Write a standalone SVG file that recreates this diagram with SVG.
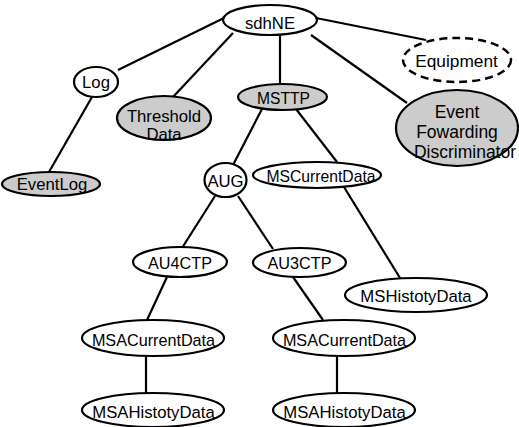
<svg xmlns="http://www.w3.org/2000/svg" width="519" height="427" viewBox="0 0 519 427">
<style>
  .n { fill: #ffffff; stroke: #000; stroke-width: 2.2; }
  .g { fill: #cccccc; stroke: #000; stroke-width: 2.2; }
  .d { fill: #ffffff; stroke: #000; stroke-width: 2.5; stroke-dasharray: 8 5; }
  .e line { stroke: #000; stroke-width: 2.2; }
  text { font-family: "Liberation Sans", Arial, sans-serif; font-size: 16.7px; fill: #000; text-anchor: middle; }
</style>
<rect width="519" height="427" fill="#ffffff"/>
<g id="connectors" class="e">
  <line x1="118" y1="70" x2="224" y2="18"/>
  <line x1="233" y1="33" x2="173" y2="97"/>
  <line x1="280" y1="35" x2="280" y2="83"/>
  <line x1="316" y1="18" x2="426" y2="40"/>
  <line x1="311" y1="35" x2="407" y2="103"/>
  <line x1="92" y1="97" x2="49" y2="172"/>
  <line x1="262" y1="109" x2="233" y2="165"/>
  <line x1="296" y1="109" x2="337" y2="162"/>
  <line x1="215" y1="196" x2="182" y2="248"/>
  <line x1="238" y1="196" x2="273" y2="249"/>
  <line x1="344" y1="187" x2="400" y2="278"/>
  <line x1="167" y1="277" x2="147" y2="320"/>
  <line x1="293" y1="277" x2="323" y2="320"/>
  <line x1="146" y1="356" x2="146" y2="393"/>
  <line x1="337" y1="356" x2="337" y2="393"/>
</g>
<g id="sdhNE"><ellipse class="n" cx="270" cy="20" rx="47" ry="15"/><text x="270" y="29">sdhNE</text></g>
<g id="Log"><ellipse class="n" cx="96" cy="82" rx="22" ry="15"/><text x="96" y="88">Log</text></g>
<g id="ThresholdData"><ellipse class="g" cx="164" cy="118" rx="47" ry="22"/><text x="164" y="122">Threshold</text><text x="164" y="140">Data</text></g>
<g id="EventLog"><ellipse class="g" cx="51" cy="184" rx="49" ry="12"/><text x="52" y="190">EventLog</text></g>
<g id="MSTTP"><ellipse class="g" cx="282.5" cy="97" rx="44.5" ry="13"/><text x="283.5" y="104" style="font-size:15.6px">MSTTP</text></g>
<g id="Equipment"><ellipse class="d" cx="457" cy="60" rx="54" ry="22"/><text x="456.5" y="67" style="font-size:17.3px">Equipment</text></g>
<g id="EventFowardingDiscriminator"><ellipse class="g" cx="457" cy="128" rx="61" ry="38"/><text x="457" y="118" style="font-size:17.5px">Event</text><text x="457" y="138" style="font-size:17.5px">Fowarding</text><text x="465" y="158" style="font-size:17.5px">Discriminator</text></g>
<g id="AUG"><ellipse class="n" cx="225.5" cy="180" rx="21" ry="17"/><text x="225.5" y="187">AUG</text></g>
<g id="MSCurrentData"><ellipse class="n" cx="317" cy="175" rx="64" ry="13"/><text x="321" y="182" style="font-size:15.7px">MSCurrentData</text></g>
<g id="AU4CTP"><ellipse class="n" cx="180" cy="262" rx="47" ry="15"/><text x="180" y="269" style="font-size:16.2px">AU4CTP</text></g>
<g id="AU3CTP"><ellipse class="n" cx="299.5" cy="262.5" rx="46.5" ry="14.5"/><text x="299.5" y="269" style="font-size:16.2px">AU3CTP</text></g>
<g id="MSHistotyData"><ellipse class="n" cx="416" cy="295" rx="71" ry="17"/><text x="416" y="302">MSHistotyData</text></g>
<g id="MSACurrentData1"><ellipse class="n" cx="153" cy="338" rx="71" ry="18"/><text x="153.5" y="346" style="font-size:16.2px">MSACurrentData</text></g>
<g id="MSACurrentData2"><ellipse class="n" cx="344" cy="338" rx="71" ry="18"/><text x="344.5" y="346" style="font-size:16.2px">MSACurrentData</text></g>
<g id="MSAHistotyData1"><ellipse class="n" cx="153" cy="410" rx="71" ry="17"/><text x="153.5" y="418">MSAHistotyData</text></g>
<g id="MSAHistotyData2"><ellipse class="n" cx="344" cy="410" rx="71" ry="17"/><text x="344.5" y="418">MSAHistotyData</text></g>
</svg>
